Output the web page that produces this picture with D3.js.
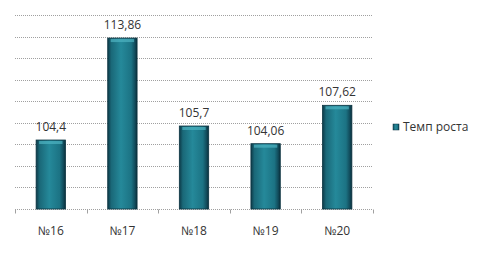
<!DOCTYPE html>
<html>
<head>
<meta charset="utf-8">
<script src="https://cdn.jsdelivr.net/npm/d3@7"></script>
<style>
  body { margin: 0; background: #fff; }
  text { font-family: "Open Sans", sans-serif; fill: #333; }
</style>
</head>
<body>
<div id="chart"></div>
<script>
// chart data
const categories = ["№16", "№17", "№18", "№19", "№20"];
const values = [104.4, 113.86, 105.7, 104.06, 107.62];
const valueLabels = ["104,4", "113,86", "105,7", "104,06", "107,62"];
const seriesName = "Темп роста";
const yTicks = [98, 100, 102, 104, 106, 108, 110, 112, 114, 116];

const W = 481, H = 253;
const margin = { top: 15, right: 108, bottom: 44, left: 15 };
const width = W - margin.left - margin.right;
const height = H - margin.top - margin.bottom;

const svg = d3.select("#chart")
    .append("svg")
    .attr("width", W)
    .attr("height", H);

// bar gradient (bevelled look)
const defs = svg.append("defs");
const grad = defs.append("linearGradient")
    .attr("id", "barGrad")
    .attr("x1", "0").attr("x2", "1").attr("y1", "0").attr("y2", "0");
grad.append("stop").attr("offset", "0%").attr("stop-color", "#0d3a48");
grad.append("stop").attr("offset", "12%").attr("stop-color", "#1a6878");
grad.append("stop").attr("offset", "45%").attr("stop-color", "#25899a");
grad.append("stop").attr("offset", "80%").attr("stop-color", "#1c7384");
grad.append("stop").attr("offset", "92%").attr("stop-color", "#124e5e");
grad.append("stop").attr("offset", "100%").attr("stop-color", "#0a2f3b");

const g = svg.append("g")
    .attr("transform", "translate(" + margin.left + "," + margin.top + ")");

const xScale = d3.scaleBand()
    .domain(categories)
    .range([0, width])
    .paddingInner(0.59)
    .paddingOuter(0.295);

const yScale = d3.scaleLinear()
    .domain([98, 116])
    .range([height, 0]);

// gridlines
g.selectAll(".grid")
    .data(yTicks.slice(1))
    .enter()
    .append("line")
    .attr("class", "grid")
    .attr("x1", 0)
    .attr("x2", width)
    .attr("y1", d => Math.round(yScale(d)) + 0.5)
    .attr("y2", d => Math.round(yScale(d)) + 0.5)
    .attr("stroke", "#a0a0a0")
    .attr("stroke-dasharray", "1,1");

// x axis
const xAxis = g.append("g")
    .attr("transform", "translate(0," + (Math.round(height) + 0.5) + ")");
xAxis.append("line")
    .attr("x1", 0).attr("x2", width)
    .attr("stroke", "#a0a0a0")
    .attr("stroke-dasharray", "1,1");
const step = xScale.step();
const boundaries = d3.range(categories.length + 1).map(i => xScale(categories[0]) - xScale.paddingOuter() * step + i * step);
xAxis.selectAll(".tick")
    .data(boundaries)
    .enter()
    .append("line")
    .attr("x1", d => Math.round(d) + 0.5)
    .attr("x2", d => Math.round(d) + 0.5)
    .attr("y1", 0)
    .attr("y2", 4)
    .attr("stroke", "#a0a0a0");

xAxis.selectAll(".cat")
    .data(categories)
    .enter()
    .append("text")
    .attr("x", d => xScale(d) + xScale.bandwidth() / 2)
    .attr("y", 25)
    .attr("text-anchor", "middle")
    .style("font-size", "12px")
    .text(d => d);

// bars
g.selectAll(".bar")
    .data(values)
    .enter()
    .append("rect")
    .attr("class", "bar")
    .attr("x", (d, i) => xScale(categories[i]))
    .attr("y", d => yScale(d))
    .attr("width", xScale.bandwidth())
    .attr("height", d => height - yScale(d))
    .attr("fill", "url(#barGrad)")
    .attr("stroke", "#0b3340")
    .attr("stroke-width", 0.8);

// bevel highlight on top
g.selectAll(".bevel")
    .data(values)
    .enter()
    .append("rect")
    .attr("x", (d, i) => xScale(categories[i]) + 3)
    .attr("y", d => yScale(d) + 1)
    .attr("width", xScale.bandwidth() - 6)
    .attr("height", 3)
    .attr("fill", "#4fb3c2")
    .attr("opacity", 0.7);

// value labels
g.selectAll(".val")
    .data(values)
    .enter()
    .append("text")
    .attr("x", (d, i) => xScale(categories[i]) + xScale.bandwidth() / 2)
    .attr("y", d => yScale(d) - 9)
    .attr("text-anchor", "middle")
    .style("font-size", "12px")
    .text((d, i) => valueLabels[i]);

// legend
const legend = svg.append("g")
    .attr("transform", "translate(393,127)");
legend.append("rect")
    .attr("x", 0)
    .attr("y", -3)
    .attr("width", 6)
    .attr("height", 6)
    .attr("fill", "url(#barGrad)")
    .attr("stroke", "#0b3340")
    .attr("stroke-width", 0.5);
legend.append("text")
    .attr("x", 10)
    .attr("y", 4)
    .style("font-size", "12px")
    .text(seriesName);
</script>
</body>
</html>
